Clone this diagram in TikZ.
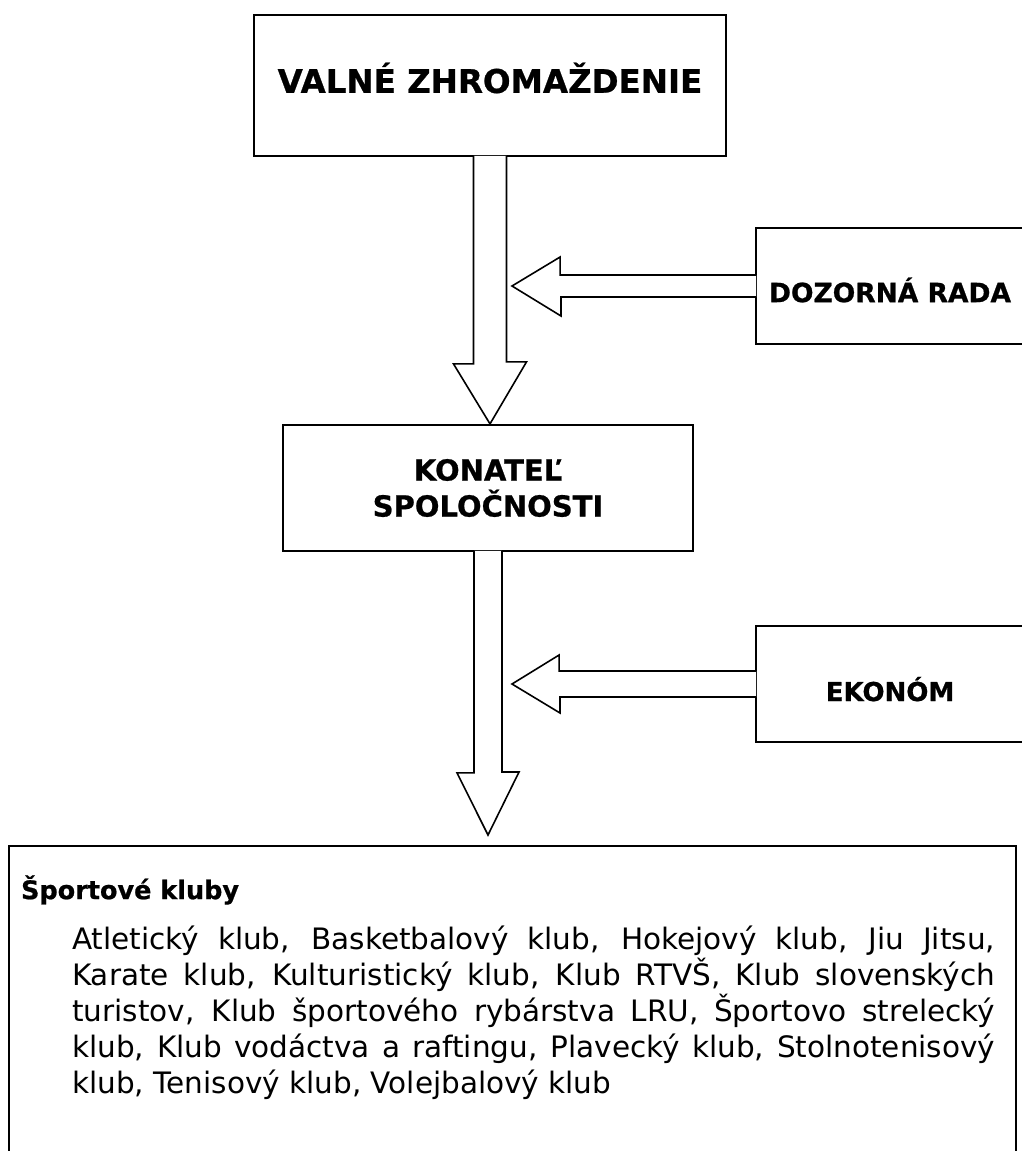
\documentclass[tikz,border=0pt]{standalone}
\usepackage{fontspec}
\setmainfont{DejaVu Sans}[BoldFeatures={FakeBold=0.8}]
\usetikzlibrary{positioning}
\usetikzlibrary{calc}

\tikzset{
  box/.style={draw, rectangle, line width=2.2pt, inner sep=0pt},
  ttl/.style={font=\bfseries\fontsize{#1}{#1}\selectfont},
  blk/.style={draw, fill=white, line width=1.6pt, line join=miter},
}

\begin{document}
\begin{tikzpicture}[x=1pt, y=-1pt]
 \useasboundingbox (0,0) rectangle (1022,1151);

 % boxes
 \node[box, ttl=32.5, minimum width=472pt, minimum height=141pt,
       text height=23.7pt, text depth=9pt] (vz) at (490,85.5) {VALNÉ ZHROMAŽDENIE};
 \node[box, ttl=26.5, minimum width=268pt, minimum height=116pt,
       text height=32.3pt, text depth=0pt] (dozor) at (890,286) {DOZORNÁ RADA};
 \node[box, font=\bfseries\fontsize{29}{36}\selectfont, align=center,
       minimum width=410pt, minimum height=126pt] (kon) at (488,488) {KONATEĽ\\SPOLOČNOSTI};
 \node[box, ttl=26, minimum width=268pt, minimum height=116pt,
       text height=34pt, text depth=0pt, xshift=-3pt] (ekon) at (893,684) {EKONÓM};
 \node[box, anchor=north west, text width=983pt, inner xsep=12pt, inner ysep=0pt,
       align=justify] (kluby) at (8,845) {%
   \rule{0pt}{53pt}{\bfseries\fontsize{25.5}{30}\selectfont Športové kluby}\par
   \vspace{14pt}
   {\fontsize{29.5}{36}\selectfont\leftskip=51pt\rightskip=9pt
   Atletický klub, Basketbalový klub, Hokejový klub, Jiu Jitsu,\linebreak
   Karate klub, Kulturistický klub, Klub RTVŠ, Klub slovenských\linebreak
   turistov, Klub športového rybárstva LRU, Športovo strelecký\linebreak
   klub, Klub vodáctva a raftingu, Plavecký klub, Stolnotenisový\linebreak
   klub, Tenisový klub, Volejbalový klub\rule[-110pt]{0pt}{1pt}\par}};

 % tips of the block arrows
 \coordinate (tip1) at (vz.south |- kon.north);
 \coordinate (tip2) at ($(kon.south |- kluby.north)+(0,-10)$);
 \coordinate (tip3) at ($(vz.south |- dozor.west)+(22,0)$);
 \coordinate (tip4) at ($(kon.south |- ekon.west)+(24,0)$);

 % block arrows
 \draw[blk] ($(vz.south)+(-16.5,-1.2)$) -- ++(0,208) -- ++(-20,0) -- (tip1)
   -- ++(36.5,-62) -- ++(-20,0) -- ($(vz.south)+(16.5,-1.2)$);
 \draw[blk] ($(kon.south)+(-14,-1.2)$) -- ++(0,222) -- ++(-17,0) -- (tip2)
   -- ++(31,-63) -- ++(-17,0) -- ($(kon.south)+(14,-1.2)$);
 \draw[blk] ($(dozor.west)+(1.2,-11)$) -- ++(-196,0) -- ++(0,-18) -- (tip3)
   -- ++(49,30) -- ++(0,-19) -- ($(dozor.west)+(1.2,11)$);
 \draw[blk] ($(ekon.west)+(1.2,-13)$) -- ++(-197,0) -- ++(0,-16) -- (tip4)
   -- ++(48,29) -- ++(0,-16) -- ($(ekon.west)+(1.2,13)$);
\end{tikzpicture}
\end{document}
